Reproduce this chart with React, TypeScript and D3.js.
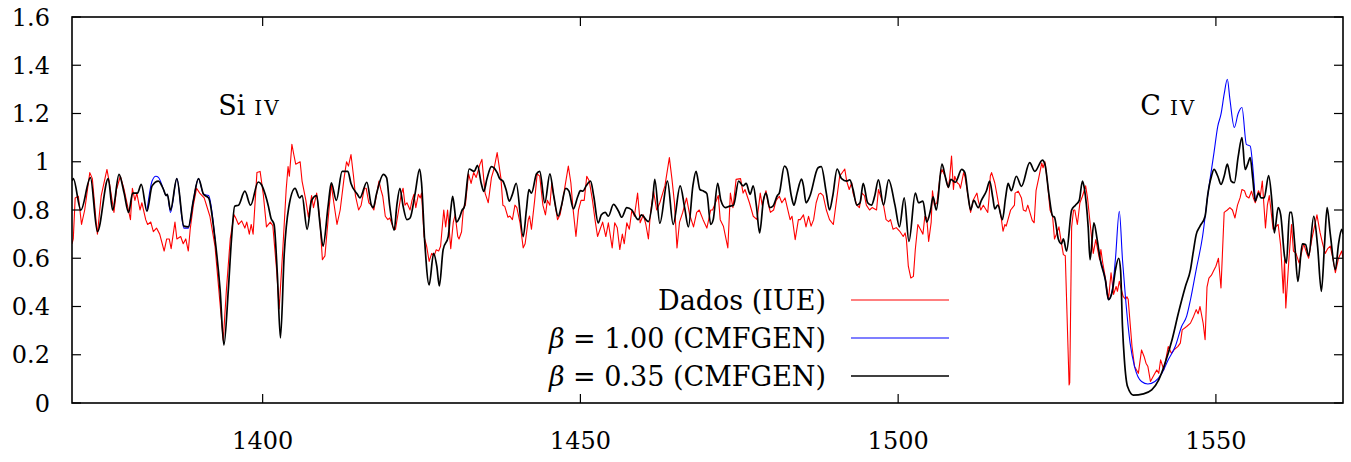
import React from "react";
import * as d3 from "d3";

type Pt = [number, number];

// Wavelength domain (Å) and flux domain
const X_DOMAIN: [number, number] = [1370, 1570];
const Y_DOMAIN: [number, number] = [0, 1.6];
const X_TICKS = [1400, 1450, 1500, 1550];
const Y_TICKS = [0, 0.2, 0.4, 0.6, 0.8, 1, 1.2, 1.4, 1.6];

const LEGEND_LABELS = ["Dados (IUE)", "1.00 (CMFGEN)", "0.35 (CMFGEN)"];
const LINE_LABELS = [
  { main: "Si", sc: "IV", lam: 1393.0, val: 1.194 },
  { main: "C", sc: "IV", lam: 1538.1, val: 1.194 },
];

// Observed IUE spectrum (red)
const dadosIUE: Pt[] = [
  [1370.0, 0.66], [1370.2, 0.68], [1370.5, 0.85], [1371.0, 0.857], [1371.5, 0.74], [1372.0, 0.8], [1372.8, 0.955],
  [1373.2, 0.93], [1373.8, 0.75], [1374.0, 0.7], [1374.6, 0.86], [1375.5, 0.968], [1375.9, 0.91], [1376.6, 0.79],
  [1377.0, 0.885], [1377.6, 0.94], [1378.2, 0.885], [1379.2, 0.76], [1379.5, 0.89], [1379.9, 0.84], [1380.2, 0.87],
  [1380.7, 0.8], [1381.0, 0.83], [1381.6, 0.76], [1381.9, 0.74], [1382.4, 0.75], [1382.8, 0.71], [1383.3, 0.725],
  [1383.8, 0.7], [1384.5, 0.63], [1384.9, 0.68], [1385.3, 0.68], [1385.6, 0.64], [1386.2, 0.75], [1386.5, 0.68],
  [1387.1, 0.69], [1387.5, 0.66], [1387.9, 0.68], [1388.3, 0.63], [1388.6, 0.72], [1389.1, 0.82], [1389.6, 0.89],
  [1390.1, 0.87], [1390.8, 0.85], [1391.7, 0.774], [1392.5, 0.65], [1393.8, 0.26], [1394.3, 0.47], [1394.9, 0.68],
  [1395.5, 0.78], [1395.8, 0.765], [1396.2, 0.74], [1396.7, 0.755], [1397.2, 0.725], [1397.5, 0.75], [1397.9, 0.7],
  [1398.2, 0.74], [1398.5, 0.7], [1399.1, 0.955], [1399.6, 0.96], [1400.1, 0.865], [1400.6, 0.73], [1401.2, 0.75],
  [1401.6, 0.735], [1402.2, 0.55], [1402.6, 0.39], [1403.2, 0.65], [1403.7, 0.885], [1404.0, 0.98], [1404.2, 0.94],
  [1404.6, 1.072], [1404.9, 1.03], [1405.2, 0.99], [1405.9, 1.0], [1406.2, 0.92], [1406.8, 0.84], [1407.2, 0.77],
  [1407.7, 0.86], [1408.0, 0.81], [1408.5, 0.87], [1409.0, 0.76], [1409.4, 0.594], [1409.8, 0.61], [1410.3, 0.76],
  [1410.8, 0.906], [1411.2, 0.83], [1411.7, 0.74], [1412.2, 0.8], [1412.8, 0.93], [1413.2, 1.0], [1413.5, 0.982],
  [1413.9, 1.03], [1414.3, 0.94], [1414.6, 0.86], [1415.1, 0.8], [1415.5, 0.82], [1416.0, 0.89], [1416.3, 0.89],
  [1416.7, 0.83], [1417.1, 0.82], [1417.5, 0.8], [1417.9, 0.86], [1418.3, 0.92], [1418.6, 0.885], [1418.9, 0.857],
  [1419.3, 0.774], [1419.7, 0.76], [1420.0, 0.767], [1420.5, 0.73], [1420.9, 0.72], [1421.4, 0.8], [1421.8, 0.865],
  [1422.1, 0.89], [1422.4, 0.82], [1422.7, 0.83], [1423.2, 0.8], [1423.5, 0.84], [1423.8, 0.865], [1424.1, 0.81],
  [1424.5, 0.865], [1424.8, 0.85], [1425.0, 0.87], [1425.4, 0.69], [1425.8, 0.65], [1426.2, 0.587], [1426.6, 0.62],
  [1427.0, 0.61], [1427.3, 0.635], [1427.7, 0.63], [1428.0, 0.65], [1428.5, 0.8], [1428.8, 0.73], [1429.1, 0.8],
  [1429.6, 0.64], [1430.0, 0.75], [1430.3, 0.78], [1430.7, 0.69], [1430.9, 0.68], [1431.3, 0.71], [1431.6, 0.81],
  [1431.9, 0.82], [1432.4, 0.95], [1432.8, 0.91], [1433.2, 0.955], [1433.6, 0.935], [1434.2, 0.99], [1434.5, 1.01],
  [1435.0, 0.87], [1435.5, 0.83], [1436.0, 0.934], [1436.4, 0.97], [1436.9, 1.038], [1437.5, 0.93], [1437.8, 0.82],
  [1438.1, 0.815], [1438.6, 0.77], [1438.9, 0.775], [1439.3, 0.76], [1439.7, 0.82], [1440.0, 0.81], [1440.5, 0.747],
  [1441.0, 0.643], [1441.3, 0.66], [1441.8, 0.76], [1442.0, 0.775], [1442.3, 0.72], [1442.8, 0.84], [1443.2, 0.95],
  [1443.6, 0.94], [1444.1, 0.82], [1444.5, 0.78], [1444.8, 0.84], [1445.2, 0.82], [1445.5, 0.913], [1445.8, 0.857],
  [1446.4, 0.76], [1446.8, 0.78], [1447.4, 0.87], [1448.1, 0.982], [1448.5, 0.913], [1448.8, 0.816], [1449.3, 0.69],
  [1449.7, 0.8], [1450.1, 0.84], [1450.6, 0.84], [1451.0, 0.94], [1451.4, 0.92], [1451.9, 0.84], [1452.3, 0.76],
  [1452.7, 0.69], [1453.1, 0.72], [1453.5, 0.75], [1454.0, 0.69], [1454.4, 0.747], [1455.0, 0.643], [1455.4, 0.747],
  [1455.8, 0.726], [1456.2, 0.636], [1456.6, 0.7], [1456.9, 0.66], [1457.3, 0.747], [1457.7, 0.72], [1458.1, 0.8],
  [1458.5, 0.774], [1459.0, 0.87], [1459.4, 0.747], [1459.9, 0.78], [1460.3, 0.74], [1460.7, 0.68], [1461.0, 0.78],
  [1461.5, 0.88], [1462.0, 0.8], [1462.5, 0.83], [1463.3, 0.9], [1464.0, 1.017], [1464.4, 0.93], [1464.8, 0.83],
  [1465.2, 0.643], [1465.6, 0.75], [1466.1, 0.79], [1466.7, 0.85], [1467.2, 0.78], [1467.8, 0.73], [1468.3, 0.79],
  [1468.7, 0.8], [1469.3, 0.76], [1469.9, 0.725], [1470.5, 0.8], [1470.8, 0.8], [1471.7, 0.86], [1472.0, 0.76],
  [1472.5, 0.733], [1473.2, 0.643], [1473.6, 0.87], [1474.0, 0.81], [1474.3, 0.878], [1474.5, 0.927], [1475.2, 0.93],
  [1475.6, 0.87], [1475.9, 0.885], [1476.6, 0.83], [1477.2, 0.774], [1477.8, 0.76], [1478.3, 0.87], [1478.6, 0.82],
  [1479.2, 0.88], [1479.6, 0.82], [1479.9, 0.79], [1480.4, 0.8], [1480.8, 0.84], [1481.3, 0.857], [1481.7, 0.83],
  [1482.2, 0.85], [1483.0, 0.76], [1483.3, 0.774], [1483.8, 0.677], [1484.3, 0.76], [1484.6, 0.76], [1485.1, 0.78],
  [1485.5, 0.73], [1485.9, 0.774], [1486.3, 0.733], [1486.7, 0.76], [1487.1, 0.83], [1487.5, 0.865], [1487.8, 0.87],
  [1488.2, 0.86], [1488.7, 0.8], [1489.2, 0.76], [1489.8, 0.74], [1490.3, 0.84], [1490.8, 0.94], [1491.6, 0.97],
  [1491.9, 0.92], [1492.3, 0.885], [1492.7, 0.913], [1492.9, 0.87], [1493.5, 0.82], [1493.9, 0.81], [1494.3, 0.87],
  [1494.7, 0.86], [1495.0, 0.82], [1495.5, 0.8], [1495.9, 0.81], [1496.6, 0.8], [1496.9, 0.885], [1497.7, 0.82],
  [1498.1, 0.76], [1498.5, 0.752], [1498.8, 0.76], [1499.2, 0.72], [1499.7, 0.727], [1500.3, 0.71], [1500.8, 0.69],
  [1501.1, 0.705], [1501.3, 0.677], [1501.6, 0.567], [1502.0, 0.518], [1502.4, 0.525], [1502.7, 0.636], [1503.1, 0.74],
  [1503.5, 0.72], [1503.9, 0.7], [1504.2, 0.774], [1504.5, 0.767], [1504.8, 0.67], [1505.2, 0.75], [1505.4, 0.88],
  [1505.7, 0.82], [1506.1, 0.83], [1506.6, 0.94], [1506.9, 0.968], [1507.4, 0.94], [1507.9, 0.892], [1508.1, 0.93],
  [1508.4, 1.024], [1508.7, 0.885], [1508.9, 0.94], [1509.3, 0.913], [1509.6, 0.906], [1509.8, 0.89], [1510.3, 0.955],
  [1510.5, 0.94], [1511.0, 0.857], [1511.4, 0.79], [1511.8, 0.84], [1512.4, 0.87], [1512.6, 0.84], [1513.0, 0.8],
  [1513.4, 0.82], [1514.1, 0.79], [1514.3, 0.85], [1514.5, 0.94], [1514.7, 0.955], [1515.2, 0.913], [1515.5, 0.87],
  [1515.7, 0.84], [1516.2, 0.77], [1516.5, 0.712], [1516.8, 0.74], [1517.0, 0.733], [1517.7, 0.8], [1518.0, 0.81],
  [1518.3, 0.82], [1518.4, 0.87], [1518.9, 0.878], [1519.4, 0.85], [1519.7, 0.8], [1520.1, 0.795], [1520.4, 0.82],
  [1521.1, 0.757], [1521.4, 0.747], [1521.7, 0.88], [1522.1, 0.93], [1522.6, 0.995], [1522.8, 0.975], [1523.1, 1.0],
  [1523.5, 0.913], [1523.9, 0.8], [1524.3, 0.774], [1524.6, 0.68], [1524.9, 0.7], [1525.3, 0.73], [1525.6, 0.677],
  [1526.0, 0.615], [1526.3, 0.61], [1526.9, 0.075], [1527.0, 0.085], [1527.3, 0.73], [1527.6, 0.8], [1527.8, 0.8],
  [1528.2, 0.74], [1528.6, 0.83], [1529.0, 0.857], [1529.5, 0.9], [1529.8, 0.85], [1530.2, 0.747], [1530.7, 0.62],
  [1531.1, 0.677], [1531.7, 0.594], [1531.9, 0.636], [1532.2, 0.58], [1532.6, 0.52], [1533.1, 0.43], [1533.5, 0.54],
  [1533.9, 0.45], [1534.3, 0.483], [1534.5, 0.463], [1534.8, 0.504], [1535.4, 0.442], [1535.8, 0.43], [1536.0, 0.44],
  [1536.2, 0.43], [1536.5, 0.331], [1536.8, 0.234], [1537.2, 0.151], [1537.8, 0.123], [1538.3, 0.22], [1538.7, 0.193],
  [1539.0, 0.165], [1539.3, 0.151], [1539.7, 0.089], [1540.4, 0.123], [1540.7, 0.137], [1541.0, 0.123], [1541.3, 0.179],
  [1541.8, 0.137], [1542.5, 0.234], [1543.0, 0.206], [1543.4, 0.22], [1544.0, 0.234], [1544.4, 0.248], [1544.7, 0.303],
  [1545.4, 0.317], [1546.0, 0.331], [1546.5, 0.36], [1546.9, 0.387], [1547.2, 0.37], [1547.5, 0.4], [1548.0, 0.33],
  [1548.3, 0.262], [1548.6, 0.48], [1548.9, 0.518], [1549.3, 0.53], [1549.6, 0.546], [1550.0, 0.567], [1550.4, 0.6],
  [1550.8, 0.477], [1551.3, 0.79], [1551.8, 0.8], [1552.2, 0.81], [1552.6, 0.8], [1553.0, 0.767], [1553.4, 0.82],
  [1553.8, 0.85], [1554.1, 0.885], [1554.5, 0.88], [1554.8, 0.857], [1555.2, 0.85], [1555.6, 0.878], [1555.9, 0.85],
  [1556.2, 0.83], [1556.7, 0.88], [1557.0, 0.86], [1557.3, 0.92], [1557.8, 0.726], [1558.1, 0.82], [1558.4, 0.86],
  [1559.0, 0.72], [1559.4, 0.73], [1559.8, 0.74], [1560.2, 0.65], [1560.6, 0.456], [1560.8, 0.594], [1561.0, 0.394],
  [1561.5, 0.6], [1561.9, 0.74], [1562.2, 0.63], [1562.6, 0.62], [1563.1, 0.58], [1563.8, 0.66], [1564.3, 0.62],
  [1564.6, 0.6], [1565.1, 0.68], [1565.9, 0.78], [1566.4, 0.705], [1566.8, 0.66], [1567.2, 0.62], [1567.6, 0.64],
  [1568.0, 0.65], [1568.4, 0.6], [1568.8, 0.54], [1569.3, 0.6], [1569.8, 0.63], [1570.0, 0.6],
];

// CMFGEN model, beta = 0.35 (black)
const beta035: Pt[] = [
  [1370.0, 0.92], [1370.2, 0.93], [1371.4, 0.8], [1372.9, 0.934], [1374.0, 0.71], [1375.7, 0.93], [1376.4, 0.8],
  [1377.4, 0.948], [1378.2, 0.87], [1378.9, 0.79], [1379.55, 0.87], [1380.3, 0.87], [1380.9, 0.906], [1381.8, 0.795],
  [1382.6, 0.9], [1383.6, 0.92], [1384.4, 0.885], [1384.8, 0.86], [1385.0, 0.865], [1385.5, 0.8], [1386.5, 0.93],
  [1387.6, 0.733], [1388.3, 0.73], [1389.1, 0.84], [1389.9, 0.93], [1390.7, 0.865], [1391.5, 0.85], [1392.5, 0.68],
  [1393.3, 0.47], [1393.9, 0.24], [1394.6, 0.47], [1395.1, 0.68], [1395.6, 0.816], [1396.2, 0.82], [1397.2, 0.878],
  [1398.1, 0.82], [1399.3, 0.916], [1399.8, 0.906], [1400.4, 0.865], [1400.9, 0.816], [1401.3, 0.767], [1401.8, 0.74],
  [1402.3, 0.54], [1402.8, 0.27], [1403.4, 0.62], [1404.1, 0.81], [1405.1, 0.89], [1405.8, 0.85], [1406.2, 0.86],
  [1407.0, 0.72], [1407.7, 0.84], [1408.5, 0.86], [1409.0, 0.747], [1409.5, 0.65], [1410.3, 0.816], [1410.8, 0.913],
  [1411.6, 0.84], [1412.5, 0.96], [1413.4, 0.96], [1413.9, 0.91], [1414.9, 0.865], [1415.3, 0.85], [1416.4, 0.915],
  [1417.1, 0.82], [1417.4, 0.81], [1417.9, 0.865], [1419.0, 0.948], [1419.5, 0.934], [1420.0, 0.816], [1420.7, 0.716],
  [1421.1, 0.816], [1421.6, 0.89], [1422.1, 0.816], [1422.7, 0.76], [1423.2, 0.767], [1424.0, 0.87], [1424.7, 0.97],
  [1425.0, 0.913], [1425.5, 0.67], [1426.2, 0.49], [1426.9, 0.62], [1427.4, 0.567], [1427.8, 0.485], [1428.4, 0.636],
  [1429.2, 0.69], [1429.6, 0.8], [1429.9, 0.857], [1430.5, 0.75], [1431.0, 0.77], [1431.4, 0.8], [1431.7, 0.81],
  [1432.5, 0.97], [1433.3, 0.96], [1433.8, 0.985], [1434.4, 0.91], [1434.8, 0.877], [1435.3, 0.93], [1436.0, 0.98],
  [1436.9, 0.955], [1437.3, 0.93], [1437.8, 0.92], [1438.3, 0.885], [1438.8, 0.837], [1439.3, 0.865], [1439.9, 0.91],
  [1441.0, 0.69], [1441.5, 0.8], [1441.9, 0.885], [1442.3, 0.87], [1443.1, 0.95], [1443.6, 0.96], [1444.4, 0.83],
  [1445.2, 0.95], [1445.8, 0.86], [1446.5, 0.774], [1447.0, 0.816], [1447.7, 0.89], [1448.2, 0.878], [1448.9, 0.805],
  [1449.6, 0.857], [1450.0, 0.88], [1450.4, 0.878], [1450.9, 0.9], [1451.6, 0.92], [1452.1, 0.857], [1452.8, 0.747],
  [1453.3, 0.78], [1453.9, 0.79], [1454.4, 0.774], [1455.2, 0.823], [1456.0, 0.795], [1456.5, 0.77], [1457.3, 0.81],
  [1458.1, 0.8], [1459.1, 0.76], [1459.6, 0.78], [1460.7, 0.752], [1461.4, 0.85], [1461.7, 0.927], [1462.5, 0.745],
  [1463.7, 0.92], [1464.6, 0.74], [1465.7, 0.9], [1466.4, 0.81], [1467.0, 0.73], [1467.7, 0.9], [1468.2, 0.96],
  [1468.8, 0.885], [1469.4, 0.878], [1469.9, 0.868], [1470.5, 0.74], [1470.9, 0.76], [1471.6, 0.91], [1472.1, 0.84],
  [1472.8, 0.81], [1473.5, 0.816], [1474.1, 0.82], [1474.9, 0.92], [1475.6, 0.9], [1476.1, 0.91], [1476.7, 0.865],
  [1477.2, 0.9], [1477.7, 0.816], [1478.2, 0.705], [1478.8, 0.84], [1479.2, 0.87], [1479.8, 0.81], [1480.3, 0.816],
  [1481.0, 0.86], [1481.3, 0.87], [1482.1, 0.982], [1482.5, 0.97], [1483.2, 0.857], [1483.6, 0.82], [1484.1, 0.87],
  [1484.8, 0.928], [1485.1, 0.9], [1485.5, 0.83], [1486.1, 0.857], [1487.4, 0.975], [1487.9, 0.98], [1488.7, 0.87],
  [1489.2, 0.8], [1489.7, 0.857], [1490.4, 0.97], [1491.1, 0.93], [1491.9, 0.92], [1492.4, 0.925], [1492.9, 0.885],
  [1493.5, 0.82], [1494.0, 0.83], [1494.5, 0.91], [1495.2, 0.83], [1495.8, 0.82], [1496.3, 0.857], [1496.9, 0.925],
  [1497.7, 0.82], [1498.5, 0.925], [1499.5, 0.82], [1500.2, 0.73], [1500.95, 0.85], [1501.7, 0.67], [1502.7, 0.87],
  [1503.2, 0.83], [1503.9, 0.837], [1504.5, 0.75], [1505.1, 0.8], [1505.5, 0.855], [1506.0, 0.8], [1506.9, 0.99],
  [1507.4, 0.94], [1507.9, 0.895], [1508.3, 0.927], [1509.0, 0.915], [1510.0, 0.968], [1510.5, 0.955], [1511.0, 0.86],
  [1511.4, 0.8], [1511.9, 0.84], [1512.6, 0.81], [1513.1, 0.84], [1513.9, 0.88], [1514.4, 0.92], [1514.9, 0.85],
  [1515.2, 0.805], [1515.7, 0.82], [1516.4, 0.76], [1516.9, 0.85], [1517.3, 0.91], [1517.8, 0.88], [1518.6, 0.94],
  [1519.4, 0.898], [1520.7, 0.996], [1521.5, 0.96], [1522.7, 1.007], [1523.1, 0.99], [1523.7, 0.87], [1524.3, 0.775],
  [1524.6, 0.77], [1525.2, 0.68], [1525.7, 0.66], [1526.0, 0.68], [1526.5, 0.63], [1527.3, 0.8], [1527.9, 0.82],
  [1528.5, 0.84], [1529.0, 0.92], [1529.3, 0.89], [1529.9, 0.73], [1530.2, 0.594], [1530.8, 0.747], [1531.3, 0.68],
  [1531.8, 0.594], [1532.6, 0.51], [1533.1, 0.428], [1533.7, 0.463], [1534.2, 0.553], [1534.7, 0.6], [1535.0, 0.55],
  [1535.3, 0.317], [1535.6, 0.179], [1536.1, 0.068], [1537.0, 0.033], [1538.6, 0.038], [1539.9, 0.054], [1541.0, 0.096],
  [1542.0, 0.165], [1543.1, 0.262], [1544.1, 0.373], [1545.2, 0.483], [1546.0, 0.553], [1546.4, 0.62], [1546.9, 0.698],
  [1547.5, 0.733], [1548.3, 0.774], [1548.7, 0.86], [1549.3, 0.94], [1549.7, 0.968], [1550.3, 0.94], [1550.8, 0.906],
  [1551.3, 0.94], [1551.8, 0.99], [1552.4, 0.92], [1552.9, 0.913], [1553.5, 1.02], [1554.1, 1.1], [1554.6, 0.968],
  [1555.0, 0.99], [1555.4, 1.017], [1555.8, 0.93], [1556.2, 0.837], [1556.7, 0.87], [1557.1, 0.85], [1557.6, 0.85],
  [1558.3, 0.943], [1558.8, 0.84], [1559.2, 0.705], [1559.8, 0.81], [1560.2, 0.78], [1560.8, 0.608], [1561.1, 0.58],
  [1561.6, 0.79], [1561.9, 0.79], [1562.4, 0.66], [1562.9, 0.504], [1563.6, 0.66], [1564.1, 0.657], [1564.6, 0.61],
  [1565.4, 0.774], [1566.0, 0.65], [1566.6, 0.463], [1567.1, 0.66], [1567.5, 0.81], [1568.0, 0.7], [1568.8, 0.553],
  [1569.3, 0.66], [1569.8, 0.72], [1570.0, 0.7],
];

// CMFGEN model, beta = 1.00 (blue) — drawn where it separates from beta = 0.35
const beta100SiIV: Pt[] = [
  [1381.8, 0.795], [1382.6, 0.92], [1383.2, 0.94], [1383.6, 0.935], [1384.4, 0.885], [1384.8, 0.86], [1385.0, 0.865],
  [1385.5, 0.79], [1386.5, 0.93], [1387.6, 0.725], [1388.3, 0.725], [1389.1, 0.84], [1389.9, 0.93], [1390.7, 0.865],
  [1391.5, 0.86], [1392.5, 0.68],
];
const beta100CIV: Pt[] = [
  [1531.8, 0.594], [1532.6, 0.51], [1533.1, 0.428], [1533.7, 0.47], [1534.2, 0.6], [1534.8, 0.795], [1535.3, 0.594],
  [1535.8, 0.428], [1536.5, 0.248], [1537.2, 0.151], [1538.3, 0.089], [1539.3, 0.079], [1540.4, 0.089], [1541.5, 0.123],
  [1542.5, 0.179], [1543.6, 0.234], [1544.6, 0.317], [1545.4, 0.36], [1546.0, 0.428], [1546.9, 0.553], [1547.9, 0.69],
  [1548.7, 0.857], [1549.7, 1.038], [1550.3, 1.148], [1550.8, 1.197], [1551.3, 1.28], [1551.8, 1.342], [1552.2, 1.26],
  [1552.9, 1.142], [1553.5, 1.2], [1554.1, 1.225], [1554.8, 1.072], [1555.4, 1.065], [1555.8, 0.98], [1556.2, 0.837],
];

const W = 1351;
const H = 462;
const M = { left: 72, right: 8, top: 17, bottom: 59 };
const FONT = "'DejaVu Serif', serif";

export default function App() {
  const x = d3.scaleLinear().domain(X_DOMAIN).range([M.left, W - M.right]);
  const y = d3.scaleLinear().domain(Y_DOMAIN).range([H - M.bottom, M.top]);
  const smooth = d3.line<Pt>().x((d) => x(d[0])).y((d) => y(d[1])).curve(d3.curveMonotoneX);
  const raw = d3.line<Pt>().x((d) => x(d[0])).y((d) => y(d[1]));
  const [x0, x1] = x.range();
  const [yb, yt] = y.range();
  const tick = 9;

  const legX1 = 851;
  const legX2 = 949;
  const legTextX = 826;
  const legRows = [300, 338, 376];
  const legColors = ["#ff0000", "#0000ff", "#000000"];
  const legWidths = [1.1, 1.1, 1.6];

  return (
    <div style={{ position: "fixed", left: 0, top: 0, width: W, height: H, background: "#fff" }}>
      <svg width={W} height={H} style={{ display: "block" }}>
        <defs>
          <clipPath id="plot">
            <rect x={x0} y={yt} width={x1 - x0} height={yb - yt} />
          </clipPath>
        </defs>
        <rect width={W} height={H} fill="#fff" />
        <g clipPath="url(#plot)" fill="none" strokeLinejoin="round">
          <path d={raw(dadosIUE) ?? ""} stroke="#ff0000" strokeWidth={1.1} />
          <path d={smooth(beta100SiIV) ?? ""} stroke="#0000ff" strokeWidth={1.1} />
          <path d={smooth(beta100CIV) ?? ""} stroke="#0000ff" strokeWidth={1.1} />
          <path d={smooth(beta035) ?? ""} stroke="#000000" strokeWidth={1.7} />
        </g>
        {/* frame */}
        <rect x={x0} y={yt} width={x1 - x0} height={yb - yt} fill="none" stroke="#000" strokeWidth={1.6} />
        {Y_TICKS.map((t) => (
          <g key={"y" + t}>
            <line x1={x0} x2={x0 + tick} y1={y(t)} y2={y(t)} stroke="#000" strokeWidth={1.2} />
            <line x1={x1} x2={x1 - tick} y1={y(t)} y2={y(t)} stroke="#000" strokeWidth={1.2} />
            <text x={x0 - 22} y={y(t)} dy="0.36em" textAnchor="end" fontFamily={FONT} fontSize={24} fill="#000">
              {String(t)}
            </text>
          </g>
        ))}
        {X_TICKS.map((t) => (
          <g key={"x" + t}>
            <line x1={x(t)} x2={x(t)} y1={yb} y2={yb - tick} stroke="#000" strokeWidth={1.2} />
            <line x1={x(t)} x2={x(t)} y1={yt} y2={yt + tick} stroke="#000" strokeWidth={1.2} />
            <text x={x(t)} y={yb + 46} textAnchor="middle" fontFamily={FONT} fontSize={24} fill="#000">
              {String(t)}
            </text>
          </g>
        ))}
        {LINE_LABELS.map((l) => (
          <text key={l.main} x={x(l.lam)} y={y(l.val)} fontFamily={FONT} fontSize={27} fill="#000">
            {l.main}
            <tspan dx={9} fontSize={20} letterSpacing={2}>
              {l.sc}
            </tspan>
          </text>
        ))}
        {LEGEND_LABELS.map((lab, i) => (
          <g key={lab}>
            <text x={legTextX} y={legRows[i]} dy="0.36em" textAnchor="end" fontFamily={FONT} fontSize={27} fill="#000">
              {i === 0 ? (
                lab
              ) : (
                <>
                  <tspan fontStyle="italic">β</tspan>
                  {" = " + lab}
                </>
              )}
            </text>
            <line x1={legX1} x2={legX2} y1={legRows[i]} y2={legRows[i]} stroke={legColors[i]} strokeWidth={legWidths[i]} />
          </g>
        ))}
      </svg>
    </div>
  );
}
